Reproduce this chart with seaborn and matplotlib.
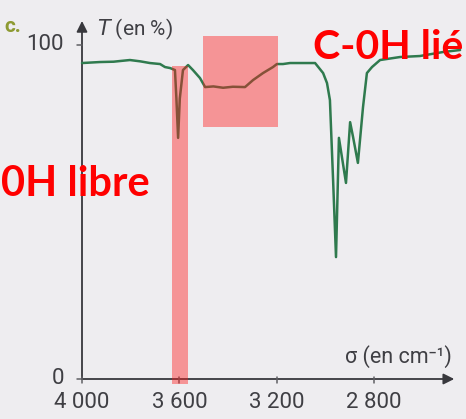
import matplotlib
matplotlib.use("Agg")
import matplotlib.pyplot as plt
from matplotlib.patches import Rectangle, FancyArrowPatch
import seaborn as sns
import pandas as pd

# --- data ---
sigma = [4000, 3926, 3870, 3844, 3803, 3760, 3721, 3679, 3659, 3638, 3618, 3612,
         3605, 3598, 3585, 3564, 3544, 3515, 3494, 3460, 3420, 3380, 3330, 3297,
         3256, 3215, 3199, 3174, 3145, 3104, 3042, 3009, 2993, 2981, 2968, 2956,
         2944, 2915, 2898, 2886, 2866, 2845, 2829, 2808, 2775, 2693, 2611, 2516, 2446]
transmittance = [94.6, 94.9, 95.0, 95.2, 95.5, 95.1, 94.6, 94.3, 93.4, 93.1, 92.5, 84.0,
                 72.2, 84.0, 92.5, 94.0, 92.5, 90.1, 87.4, 87.6, 87.2, 87.5, 87.4, 89.5,
                 91.6, 93.4, 94.3, 94.3, 94.6, 94.6, 94.6, 91.6, 88.6, 83.5, 59.6, 36.5,
                 72.2, 58.7, 76.9, 72.5, 64.7, 81.4, 91.6, 93.4, 95.5, 96.4, 96.7, 97.9, 98.5]
x_ticks = [4000, 3600, 3200, 2800]
x_tick_labels = ["4 000", "3 600", "3 200", "2 800"]
y_ticks = [0, 100]
y_tick_labels = ["0", "100"]

df = pd.DataFrame({"sigma": sigma, "T": transmittance})

sns.set_style("white")
plt.rcParams["font.family"] = ["Roboto", "DejaVu Sans"]

bg = "#eeedf0"
fig = plt.figure(figsize=(4.66, 4.19), dpi=100, facecolor=bg)
ax = fig.add_axes([0, 0, 1, 1])
ax.set_facecolor(bg)

# pixel mapping: sigma 4000 at px 82, 0.2433 px per cm-1; T 0 at px 379, 3.34 px per %
ax.set_xlim(4000 + 82 / 0.2433, 4000 - 384 / 0.2433)
ax.set_ylim(-(419 - 379) / 3.34, 379 / 3.34)
for s in ax.spines.values():
    s.set_visible(False)
ax.set_xticks([])
ax.set_yticks([])

axis_col = "#5f5f64"
text_col = "#3f3f44"

sns.lineplot(data=df, x="sigma", y="T", sort=False, estimator=None,
             color="#2f7a4e", linewidth=1.8, ax=ax, zorder=3)

# axes with arrows
for start, end in [((4000, 0), (4000, 107.2)), ((4000, 0), (2470, 0))]:
    ax.add_patch(FancyArrowPatch(start, end, arrowstyle="-|>", mutation_scale=16,
                                 color="#38383d", lw=1.3, shrinkA=0, shrinkB=0,
                                 zorder=2))

# ticks
dx = 5 / 0.2433
dy = 4 / 3.34
for xt, lab in zip(x_ticks, x_tick_labels):
    ax.plot([xt, xt], [-dy, dy * 0.6], color=axis_col, lw=1.1, zorder=2)
    ax.text(xt, -6.9, lab, ha="center", va="center", fontsize=16, color=text_col)
for yt, lab in zip(y_ticks, y_tick_labels):
    ax.plot([4000 + dx, 4000], [yt, yt], color=axis_col, lw=1.1, zorder=2)
    ax.text(4000 + 3.6 * dx, yt + 0.2, lab, ha="right", va="center", fontsize=16,
            color=text_col)

# axis titles
ax.text(3940, 104.8, "$T$ (en %)", ha="left", va="center", fontsize=15, color=text_col)
ax.text(2479, 6.6, "σ (en cm⁻¹)", ha="right", va="center", fontsize=15.5, color=text_col)
ax.text(4318, 105.6, "c.", ha="left", va="center", fontsize=15, fontweight="bold",
        color="#8d9a32")

# highlight boxes
red = "#ff1a1a"
ax.add_patch(Rectangle((3564, -1.5), 3630 - 3564, 93.7 + 1.5, facecolor=red,
                       alpha=0.42, edgecolor="none", zorder=4))
ax.add_patch(Rectangle((3194, 75.4), 3503 - 3194, 102.7 - 75.4, facecolor=red,
                       alpha=0.42, edgecolor="none", zorder=4))

# annotations
ax.text(4000 - (313 - 82) / 0.2433, 99.2, "C-0H lié", ha="left", va="center",
        fontsize=29.5, fontweight="bold", color="#ff0000", family=["Lato", "DejaVu Sans"],
        zorder=5)
ax.text(4000 + (82 - 1) / 0.2433, 58.5, "0H libre", ha="left", va="center",
        fontsize=30, fontweight="bold", color="#ff0000", family=["Lato", "DejaVu Sans"],
        zorder=5)

fig.savefig("out.png", dpi=100, facecolor=bg)
